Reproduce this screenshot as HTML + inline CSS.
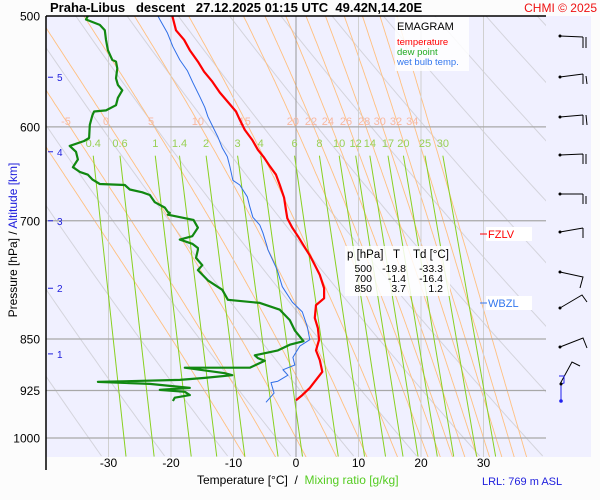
<!DOCTYPE html>
<html><head><meta charset="utf-8"><style>
html,body{margin:0;padding:0;background:#fcfcfc;}
svg{display:block;font-family:"Liberation Sans",sans-serif;}
</style></head><body>
<svg id="chart" width="600" height="500" viewBox="0 0 600 500">
<rect x="0" y="0" width="600" height="500" fill="#fcfcfc"/>
<rect x="46" y="16" width="545" height="441" fill="#f0f0ff"/>
<defs><clipPath id="pc"><rect x="46" y="16" width="500" height="441"/></clipPath></defs>
<g id="grid" clip-path="url(#pc)"></g>
<g id="labels"></g>
<g id="series" clip-path="url(#pc)"></g>
<line x1="46" y1="16" x2="546" y2="16" stroke="#000" stroke-width="1.5"/>
<line x1="46" y1="16" x2="46" y2="470" stroke="#000" stroke-width="1.5"/>
<text x="50" y="12" font-size="13" font-weight="bold" xml:space="preserve">Praha-Libus   descent   27.12.2025 01:15 UTC  49.42N,14.20E</text>
<text x="597" y="12" font-size="12" fill="#ee1111" text-anchor="end">CHMI © 2025</text>
<g id="yticks"></g>
<g id="xticks"></g>
<g id="altticks"></g>
<text transform="translate(17,240) rotate(-90)" font-size="12" text-anchor="middle">Pressure [hPa]  /  <tspan fill="#2020dd">Altitude [km]</tspan></text>
<text x="197" y="484" font-size="12" xml:space="preserve">Temperature [°C]  /  <tspan fill="#55cc22">Mixing ratio [g/kg]</tspan></text>
<text x="482" y="485" font-size="11" fill="#2020dd">LRL: 769 m ASL</text>
<g>
<rect x="395" y="17" width="74" height="54" fill="#fff" opacity="0.85"/>
<text x="397" y="30" font-size="11">EMAGRAM</text>
<text x="397" y="45" font-size="9.5" fill="#ff0000">temperature</text>
<text x="397" y="55" font-size="9.5" fill="#22aa22">dew point</text>
<text x="397" y="65" font-size="9.5" fill="#3377ee">wet bulb temp.</text>
</g>
<g font-size="10.5">
<rect x="345" y="246" width="105" height="50" fill="#fff" opacity="0.85"/>
<text x="347" y="258" font-size="11.5">p [hPa]</text>
<text x="393" y="258" font-size="11.5">T</text>
<text x="413" y="258" font-size="11.5">Td [°C]</text>
<text x="372" y="272" text-anchor="end">500</text>
<text x="406" y="272" text-anchor="end">-19.8</text>
<text x="443" y="272" text-anchor="end">-33.3</text>
<text x="372" y="282" text-anchor="end">700</text>
<text x="406" y="282" text-anchor="end">-1.4</text>
<text x="443" y="282" text-anchor="end">-16.4</text>
<text x="372" y="292" text-anchor="end">850</text>
<text x="406" y="292" text-anchor="end">3.7</text>
<text x="443" y="292" text-anchor="end">1.2</text>
</g>
<g>
<rect x="486" y="227" width="46" height="14" fill="#fff"/>
<line x1="480" y1="234" x2="487" y2="234" stroke="#ff0000"/>
<text x="488" y="238" font-size="11" fill="#ff0000">FZLV</text>
</g>
<g>
<rect x="486" y="296" width="46" height="14" fill="#fff"/>
<line x1="480" y1="303" x2="487" y2="303" stroke="#3377ee"/>
<text x="488" y="307" font-size="11" fill="#3377ee">WBZL</text>
</g>
<g stroke="#000" fill="none" stroke-width="1">
<path d="M560,36 L583,37 M583,37 L583,48 M586,37 L586,48"/>
<path d="M560,77 L583,74 M583,74 L583,84 M586,76 L587,84"/>
<path d="M560,117 L583,115 M583,115 L583,125 M586,115 L587,125"/>
<path d="M560,155 L583,154 M583,154 L583,164 M586,154 L586,164"/>
<path d="M560,194 L583,194 M583,194 L583,204 M586,196 L586,204"/>
<path d="M560,232 L583,228 M583,228 L583,238"/>
<path d="M560,272 L583,277 L580,288"/>
<path d="M560,308 L582,295 L587,302"/>
<path d="M560,347 L583,338 L587,348"/>
<path d="M560,384 L572,362 L580,366"/>
<path d="M559,376 L564,376 L564,383 L561,384 L561,401" stroke="#2020ee"/>
<circle cx="561" cy="401" r="1.8" fill="#2020ee" stroke="none"/>
<circle cx="560" cy="36" r="1.5" fill="#000" stroke="none"/>
<circle cx="560" cy="77" r="1.5" fill="#000" stroke="none"/>
<circle cx="560" cy="117" r="1.5" fill="#000" stroke="none"/>
<circle cx="560" cy="155" r="1.5" fill="#000" stroke="none"/>
<circle cx="560" cy="194" r="1.5" fill="#000" stroke="none"/>
<circle cx="560" cy="232" r="1.5" fill="#000" stroke="none"/>
<circle cx="560" cy="272" r="1.5" fill="#000" stroke="none"/>
<circle cx="560" cy="308" r="1.5" fill="#000" stroke="none"/>
<circle cx="560" cy="347" r="1.5" fill="#000" stroke="none"/>
<circle cx="561" cy="384" r="1.5" fill="#000" stroke="none"/>
</g>
</svg>
<script>
const pressureTicks=[500,600,700,850,925,1000];
const tempTicks=[-30,-20,-10,0,10,20,30];
const isotherms=[-30,-20,-10,0,10,20,30];
const altitudeKm=[5,4,3,2,1];
const altitudePressure=[553,625,700,782,871];
const thetaW=[-10,-5,0,5,10,15,20,22,24,26,28,30,32,34,36];
const thetaWLabels=[-5,0,5,10,15,20,22,24,26,28,30,32,34];
const thetaWLabelT=[-36.8,-30.4,-23.2,-15.7,-8.2,-0.5,2.4,5.1,8.0,10.9,13.4,16.0,18.6];
const dryTheta=[230,240,250,260,270,280,290,300,310,320,330,340,350,360,370,380];
const mixRatios=[0.4,0.6,1,1.4,2,3,4,6,8,10,12,14,17,20,25,30];
const tempP=[500,512,520,529,539,548,557,567,576,585,593,603,613,623,631,640,649,660,674,688,697,708,718,730,741,751,765,782,795,804,821,835,851,866,880,897,909,921,932,940];
const tempT=[-19.8,-19.2,-17.9,-17.0,-15.7,-14.7,-13.4,-12.2,-10.9,-9.6,-9.0,-8.2,-7.0,-6.1,-5.1,-4.2,-3.2,-2.6,-1.9,-1.6,-1.4,-0.6,0.3,1.3,2.2,2.9,3.8,4.5,4.5,3.2,3.0,3.5,3.7,3.2,3.8,4.2,3.2,2.2,1.0,0.0];
const dewP=[500,503,507.5,512,520,529,537.5,539,545,554,560,565,572,579,584,585,589,598,611,614,619,625,633,641,646,649,654,659,660,665,668,671,679,685,690,691,693,699,708,718,722,727,732,734,744,753,759,772,784,797,801,810,824,838,853,858,866,873,877,881,891,891,899,902,906,909,912,915,921,924,927,932,936,941];
const dewT=[-33.3,-33.6,-31.4,-30.6,-30.4,-30.1,-29.4,-28.8,-28.6,-28.8,-28.5,-27.8,-28.5,-28.8,-30.4,-32.3,-32.6,-33.0,-33.1,-33.9,-36.2,-35.2,-34.9,-35.7,-34.6,-33.3,-32.6,-31.4,-27.4,-26.6,-24.6,-23.4,-22.6,-21.0,-20.5,-20.2,-20.5,-16.4,-15.7,-16.6,-18.6,-16.6,-15.7,-15.7,-16.0,-15.0,-15.7,-14.1,-11.8,-10.9,-5.8,-2.6,-1.0,-0.2,1.2,-1.0,-2.9,-6.6,-6.1,-5.0,-7.4,-17.8,-11.4,-10.2,-14.6,-18.6,-31.7,-23.4,-17.0,-21.8,-17.8,-17.0,-19.4,-19.7];
const wetP=[500,503,514,526,537.5,547,558,571,581,590,600,610,621,630,640,655,660,673,684,696,705,714,731,734,759,780,800,813,833,851,860,876,887,894,902,911,913,929,943];
const wetT=[-22.1,-21.8,-20.6,-19.7,-18.6,-17.4,-16.5,-15.4,-14.6,-14.1,-13.3,-12.5,-11.8,-11.0,-10.6,-10.1,-9.0,-7.8,-7.4,-6.9,-5.8,-5.3,-4.6,-4.5,-3.0,-2.2,-0.6,1.0,1.8,2.2,0.6,-0.5,-0.2,-2.1,-1.3,-2.9,-4.0,-3.5,-4.8];

const NS='http://www.w3.org/2000/svg';
function X(t){return 296+t*6.25;}
function Y(p){return 438+609*Math.log(p/1000);}
function mk(tag,parent,attrs){const e=document.createElementNS(NS,tag);for(const k in attrs)e.setAttribute(k,attrs[k]);parent.appendChild(e);return e;}
const grid=document.getElementById('grid'),labels=document.getElementById('labels'),series=document.getElementById('series');
const PBOT=1031;
function es(tc){return 6.112*Math.exp(17.67*tc/(tc+243.5));}
function pathFrom(pts){return pts.map((q,i)=>(i?'L':'M')+q[0].toFixed(1)+','+q[1].toFixed(1)).join(' ');}

// dry adiabats (grey)
dryTheta.forEach(th=>{const pts=[];for(let p=480;p<=PBOT;p+=10){pts.push([X(th*Math.pow(p/1000,0.2857)-273.15),Y(p)]);}
 const e=mk('path',grid,{d:pathFrom(pts),stroke:'#d4d4dc',fill:'none','stroke-width':1});
 
 });
// moist adiabats (orange)
function moist(tw){const up=[],down=[];function step(T,p,dp){const tc=T-273.15;const e=es(tc);const rs=0.622*e/(p-e);const num=287*T+2.5e6*rs;const den=1004+2.5e6*2.5e6*rs*0.622/(287*T*T);return T+dp*(num/den)/p;}
 let T=tw+273.15;for(let p=1000;p>=480;p-=2){up.push([X(T-273.15),Y(p)]);T=step(T,p,-2);}
 T=tw+273.15;for(let p=1000;p<=PBOT+4;p+=2){down.push([X(T-273.15),Y(p)]);T=step(T,p,2);}
 return up.reverse().concat(down);}
thetaW.forEach(tw=>{const e=mk('path',grid,{d:pathFrom(moist(tw)),stroke:'#ffc080',fill:'none','stroke-width':0.9});
 
 });
// isotherms
isotherms.forEach(t=>{const e=mk('line',grid,{x1:X(t),x2:X(t),y1:16,y2:457,stroke:t===0?'#999':'#d0d0d0','stroke-width':1});
 
 });
// isobars
pressureTicks.forEach(p=>{const e=mk('line',grid,{x1:46,x2:546,y1:Y(p),y2:Y(p),stroke:'#a8a8a8','stroke-width':1.2});
 
 });
// mixing ratio lines
function tdFromR(r,p){const e=r*p/(622+r);const l=Math.log(e/6.112);return 243.5*l/(17.67-l);}
mixRatios.forEach(r=>{const e=mk('line',grid,{x1:X(tdFromR(r,629)),y1:Y(629),x2:X(tdFromR(r,PBOT)),y2:Y(PBOT),stroke:'#88d020','stroke-width':1});
 
 
 const t=mk('text',labels,{x:X(tdFromR(r,629)),y:147,'font-size':11,fill:'#99d055','text-anchor':'middle'});t.textContent=r;
 
 });
thetaWLabels.forEach((v,i)=>{const t=mk('text',labels,{x:X(thetaWLabelT[i]),y:125,'font-size':11,fill:'#f8b8a0','text-anchor':'middle'});t.textContent=v;
 
 });
// ticks
const yt=document.getElementById('yticks'),xt=document.getElementById('xticks'),at=document.getElementById('altticks');
pressureTicks.forEach(p=>{const t=mk('text',yt,{x:40,y:Y(p)+4.5,'font-size':12,'text-anchor':'end'});t.textContent=p;
 
 });
tempTicks.forEach(v=>{const t=mk('text',xt,{x:X(v),y:467,'font-size':12,'text-anchor':'middle'});t.textContent=v;
 
 });
altitudeKm.forEach((k,i)=>{const y=Y(altitudePressure[i]);const l=mk('line',at,{x1:48,x2:53,y1:y,y2:y,stroke:'#2020dd'});
 
 
 const t=mk('text',at,{x:57,y:y+4,'font-size':10,fill:'#2020dd'});t.textContent=k;
 
 });
// series
function line(P,T,color,w,name){const pts=P.map((p,i)=>[X(T[i]),Y(p)]);const e=mk('path',series,{d:pathFrom(pts),stroke:color,fill:'none','stroke-width':w,'stroke-linejoin':'round'});
 
 }
line(wetP,wetT,'#2f6fe8',1,'wet-bulb-line');
line(dewP,dewT,'#118811',2.2,'dew-point-line');
line(tempP,tempT,'#ff0000',2.2,'temperature-line');
</script>
</body></html>
